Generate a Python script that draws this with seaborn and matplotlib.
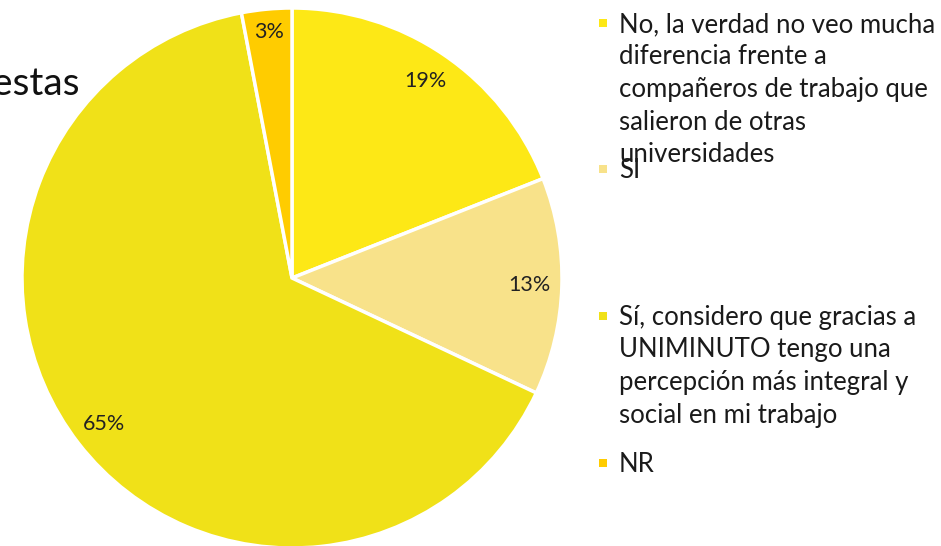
import matplotlib
matplotlib.use("Agg")
import matplotlib.pyplot as plt
import seaborn as sns
from matplotlib.patches import Rectangle

# Survey answers and their shares (%)
categories = [
    "No, la verdad no veo mucha\ndiferencia frente a\ncompañeros de trabajo que\nsalieron de otras\nuniversidades",
    "SI",
    "Sí, considero que gracias a\nUNIMINUTO tengo una\npercepción más integral y\nsocial en mi trabajo",
    "NR",
]
shares = [19, 13, 65, 3]
colors = ["#FDE816", "#F8E28A", "#F0E118", "#FFCC00"]
title = "Respuestas"

sns.set_theme(style="white")
plt.rcParams["font.family"] = ["Lato", "DejaVu Sans"]

W, H = 941, 546
fig = plt.figure(figsize=(W / 100, H / 100), dpi=100)
fig.patch.set_facecolor("white")

# Pie axes: centre (292, 278) px, radius 270 px
cx, cy, r = 292, 278, 270
ax = fig.add_axes([(cx - r) / W, (H - cy - r) / H, 2 * r / W, 2 * r / H])
wedges, _, autotexts = ax.pie(
    shares,
    colors=colors,
    startangle=90,
    counterclock=False,
    autopct=lambda p: f"{p:.0f}%",
    pctdistance=0.88,
    wedgeprops=dict(edgecolor="white", linewidth=2.5),
    textprops=dict(fontsize=15.5, color="#222222"),
)
# the small slice's label sits a little further out
x3, y3 = autotexts[3].get_position()
autotexts[3].set_position((x3 * 0.915 / 0.88, y3 * 0.915 / 0.88))
ax.set_xlim(-1, 1)
ax.set_ylim(-1, 1)
ax.set_aspect("equal")
ax.axis("off")

# Title, running off the left edge
fig.text(80 / W, 1 - 95 / H, title, ha="right", va="baseline",
         fontsize=28, color="#111111")

# Legend drawn by hand: square marker + wrapped label, one baseline per line
baselines = [32, 178, 325, 472]
line_step = 32.5
sq = 8
for label, col, yb in zip(categories, colors, baselines):
    yc = yb - 9.5
    fig.patches.append(Rectangle((599 / W, 1 - (yc + sq / 2) / H), sq / W, sq / H,
                                 transform=fig.transFigure, facecolor=col,
                                 edgecolor="none"))
    for i, line in enumerate(label.split("\n")):
        fig.text(619 / W, 1 - (yb + i * line_step) / H, line, ha="left",
                 va="baseline", fontsize=18.5, color="#1a1a1a")

fig.savefig("out.png", dpi=100, facecolor="white")
